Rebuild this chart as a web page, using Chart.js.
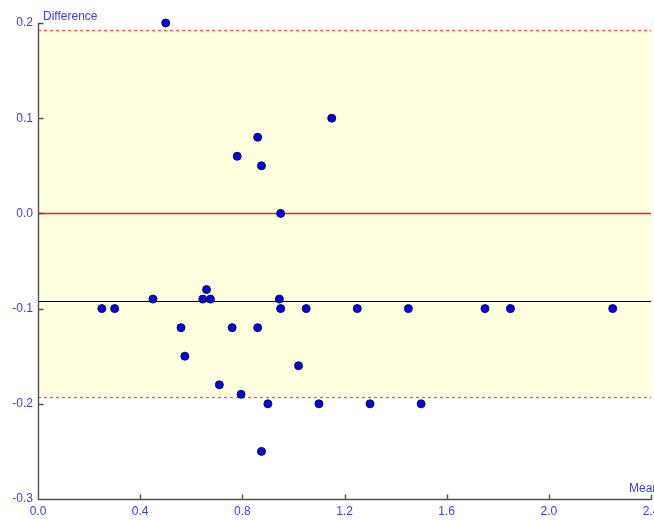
<!DOCTYPE html>
<html>
<head>
<meta charset="utf-8">
<script src="https://cdn.jsdelivr.net/npm/chart.js@4/dist/chart.umd.min.js"></script>
<style>
  html, body { margin: 0; padding: 0; overflow: hidden; background: #fff; }
  #wrap { position: absolute; left: 0; top: 0; width: 680px; height: 520px; }
</style>
</head>
<body>
<div id="wrap"><canvas id="chart-context" width="680" height="520"></canvas></div>
<script>
"use strict";
// mean of the two methods / difference between them
const means = [
  0.25, 0.30, 0.45, 0.50, 0.56, 0.575, 0.645, 0.66, 0.675, 0.71, 0.76, 0.78,
  0.795, 0.86, 0.86, 0.875, 0.875, 0.90, 0.945, 0.95, 0.95, 1.02, 1.05, 1.10,
  1.15, 1.25, 1.30, 1.45, 1.50, 1.75, 1.85, 2.25,
];
const diffs = [
  -0.10, -0.10, -0.09, 0.20, -0.12, -0.15, -0.09, -0.08, -0.09, -0.18, -0.12, 0.06,
  -0.19, 0.08, -0.12, 0.05, -0.25, -0.20, -0.09, 0.00, -0.10, -0.16, -0.10, -0.20,
  0.10, -0.10, -0.20, -0.10, -0.20, -0.10, -0.10, -0.10,
];
const xTicks = [0.0, 0.4, 0.8, 1.2, 1.6, 2.0, 2.4];
const yTicks = [-0.3, -0.2, -0.1, 0.0, 0.1, 0.2];
const upperLimit = 0.193;
const lowerLimit = -0.193;
const meanDiff = diffs.reduce((a, b) => a + b, 0) / diffs.length;

const blueText = "#3b3bff";
const font = { family: "'Liberation Sans', Arial, sans-serif", size: 12 };

const refLines = {
  id: "refLines",
  beforeDatasetsDraw(chart) {
    const { ctx, chartArea: a, scales: { x, y } } = chart;
    const yu = y.getPixelForValue(upperLimit);
    const yl = y.getPixelForValue(lowerLimit);
    ctx.save();
    ctx.fillStyle = "#ffffe0";
    ctx.fillRect(a.left, yu, a.right - a.left, yl - yu);

    const hline = (v, color, width, dash) => {
      const py = Math.round(y.getPixelForValue(v)) + 0.5;
      ctx.beginPath();
      ctx.setLineDash(dash);
      ctx.strokeStyle = color;
      ctx.lineWidth = width;
      ctx.moveTo(a.left, py);
      ctx.lineTo(a.right, py);
      ctx.stroke();
    };
    hline(upperLimit, "#ff5050", 1.3, [3, 3]);
    hline(lowerLimit, "#ff5050", 1.3, [3, 3]);
    hline(0, "#ee2222", 1.3, []);
    hline(meanDiff, "#000000", 1.2, []);
    ctx.setLineDash([]);

    // axes with inward ticks
    ctx.strokeStyle = "#505050";
    ctx.lineWidth = 1.4;
    ctx.beginPath();
    const lx = Math.round(a.left) + 0.5;
    const by = Math.round(a.bottom) + 0.5;
    ctx.moveTo(lx, a.top);
    ctx.lineTo(lx, by);
    ctx.lineTo(a.right + 1, by);
    yTicks.forEach((v) => {
      const py = Math.round(y.getPixelForValue(v)) + 0.5;
      ctx.moveTo(lx, py);
      ctx.lineTo(lx + 5, py);
    });
    xTicks.forEach((v) => {
      const px = Math.round(x.getPixelForValue(v)) + 0.5;
      ctx.moveTo(px, by);
      ctx.lineTo(px, by - 5);
    });
    ctx.stroke();

    ctx.fillStyle = blueText;
    ctx.font = font.size + "px " + font.family;
    ctx.textBaseline = "alphabetic";
    ctx.textAlign = "left";
    ctx.fillText("Difference", a.left + 5, 20);
    ctx.fillText("Mean", a.right - 22, a.bottom - 7);
    ctx.restore();
  },
};

const chartCxt = document.querySelector("#chart-context").getContext("2d");
new Chart(chartCxt, {
  type: "scatter",
  data: {
    datasets: [
      {
        data: means.map((m, i) => ({ x: m, y: diffs[i] })),
        pointRadius: 4,
        pointHoverRadius: 4,
        backgroundColor: "#0000ee",
        borderColor: "#101040",
        borderWidth: 1,
        clip: false,
      },
    ],
  },
  options: {
    responsive: false,
    animation: false,
    layout: { padding: { top: 23, right: 29, left: 0, bottom: 0 } },
    plugins: { legend: { display: false }, tooltip: { enabled: false } },
    scales: {
      x: {
        type: "linear",
        min: 0,
        max: 2.4,
        grid: { display: false, drawTicks: false },
        border: { display: false },
        afterBuildTicks: (s) => { s.ticks = xTicks.map((v) => ({ value: v })); },
        afterFit: (s) => { s.height = 21; },
        ticks: {
          color: blueText,
          font: font,
          padding: 5,
          maxRotation: 0,
          autoSkip: false,
          callback: (v) => v.toFixed(1),
        },
      },
      y: {
        type: "linear",
        min: -0.3,
        max: 0.2,
        grid: { display: false, drawTicks: false },
        border: { display: false },
        afterBuildTicks: (s) => { s.ticks = yTicks.map((v) => ({ value: v })); },
        afterFit: (s) => { s.width = 38; },
        ticks: {
          color: blueText,
          font: font,
          padding: 5,
          autoSkip: false,
          callback: (v) => v.toFixed(1),
        },
      },
    },
  },
  plugins: [refLines],
});
</script>
</body>
</html>
